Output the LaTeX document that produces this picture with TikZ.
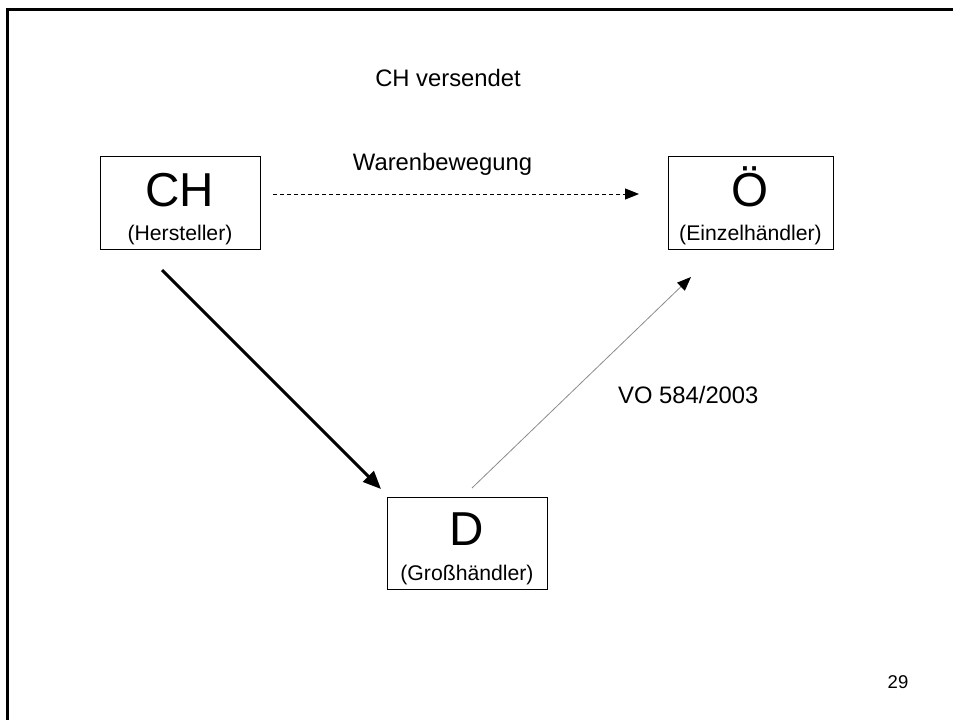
\documentclass[tikz,border=0pt]{standalone}
\usepackage{fontspec}
\setmainfont{Liberation Sans}
\usetikzlibrary{arrows.meta}
\begin{document}
\begin{tikzpicture}[x=1pt,y=-1pt,
  box/.style={draw=black, line width=1pt, rectangle, inner sep=0pt, minimum height=93pt},
  bigtxt/.style={font=\fontsize{47.6}{52}\selectfont, anchor=base, inner sep=0pt},
  subtxt/.style={font=\fontsize{21.2}{24}\selectfont, anchor=base, inner sep=0pt},
  labtxt/.style={font=\fontsize{23.8}{26}\selectfont, anchor=base, inner sep=0pt},
  numtxt/.style={font=\fontsize{18.5}{20}\selectfont, anchor=base, inner sep=0pt},
  headtip/.style={-{Triangle[length=14pt,width=11pt,color=black]}}]

% page area with white background
\fill[white] (0,0) rectangle (953,720);
\useasboundingbox (0,0) rectangle (953,720);

% slide frame, running off the page to the right and bottom
\draw[line width=3pt, line cap=butt] (7.5,720) -- (7.5,9.5) -- (953,9.5);

% boxes
\node[box, minimum width=160pt] (ch) at (180,202.5) {};
\node[box, minimum width=165pt] (oe) at (750.5,202.5) {};
\node[box, minimum width=160pt, minimum height=92pt] (d) at (467,543) {};

% box texts
\node[bigtxt] (chT) at (180,206) {CH};
\node[subtxt] (chS) at (180,240) {(Hersteller)};
\node[bigtxt] (oeT) at (750.5,206) {Ö};
\node[subtxt] (oeS) at (750.5,240) {(Einzelhändler)};
\node[bigtxt] (dT) at (467,545) {D};
\node[subtxt] (dS) at (467,580) {(Großhändler)};

% labels
\node[labtxt] (title) at (448,86) {CH versendet};
\node[labtxt] (ware) at (442.5,170) {Warenbewegung};
\node[labtxt, anchor=base west] (vo) at (618,403) {VO 584/2003};
\node[numtxt] (pg) at (898,688) {29};

% connector ends
\coordinate (w1) at (273,194);
\coordinate (w2) at (639,194);
\coordinate (k1) at (162,270);
\coordinate (k2) at (381,489);
\coordinate (v1) at (472,488);
\coordinate (v2) at (691,277);

% connectors
\draw[headtip, line width=1pt, dash pattern=on 4pt off 3pt] (w1) -- (w2);
\draw[-{Triangle[length=18pt,width=15pt]}, line width=3pt] (k1) -- (k2);
\draw[headtip, line width=0.8pt, draw=black!45] (v1) -- (v2);
\end{tikzpicture}
\end{document}
